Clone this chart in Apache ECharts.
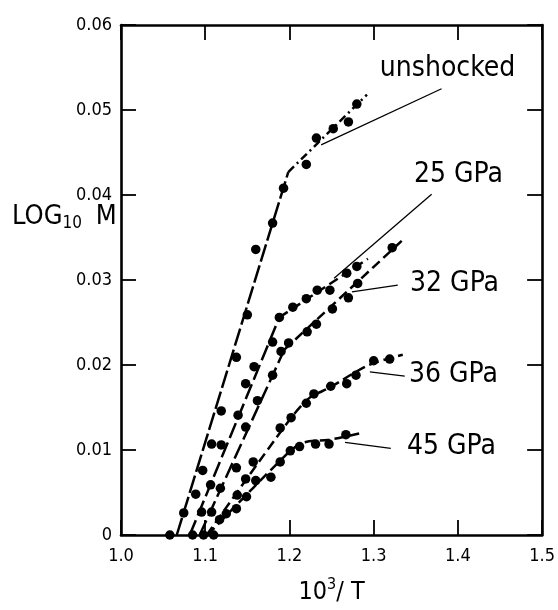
<!DOCTYPE html>
<html>
<head>
<meta charset="utf-8">
<script src="https://cdn.jsdelivr.net/npm/echarts@6/dist/echarts.min.js"></script>
<style>html,body{margin:0;padding:0;background:#fff}#c{width:558px;height:610px}</style>
</head>
<body>
<div id="c"></div>
<script>
// ---- data ----
const xTickLabels = ['1.0', '1.1', '1.2', '1.3', '1.4', '1.5'];
const yTickLabels = ['0', '0.01', '0.02', '0.03', '0.04', '0.05', '0.06'];

const unshockedPts = [[1.058,0],[1.0745,0.0026],[1.0887,0.0048],[1.097,0.0076],[1.1076,0.0107],[1.119,0.0146],[1.137,0.0209],[1.150,0.0259],[1.160,0.0336],[1.180,0.0367],[1.193,0.0408],[1.220,0.0436],[1.232,0.0467],[1.252,0.0478],[1.270,0.0486],[1.280,0.0507]];
const gpa25Pts = [[1.085,0],[1.0957,0.0027],[1.1064,0.0059],[1.119,0.0106],[1.139,0.0141],[1.148,0.0178],[1.158,0.0198],[1.180,0.0227],[1.188,0.0256],[1.204,0.0268],[1.220,0.0278],[1.233,0.0288],[1.248,0.0288],[1.268,0.0308],[1.280,0.0316]];
const gpa32Pts = [[1.098,0],[1.1076,0.0027],[1.118,0.0055],[1.137,0.0079],[1.148,0.0127],[1.162,0.0158],[1.180,0.0188],[1.190,0.0216],[1.199,0.0226],[1.221,0.0239],[1.232,0.0248],[1.251,0.0266],[1.270,0.0279],[1.281,0.0296],[1.322,0.0338]];
const gpa36Pts = [[1.110,0],[1.117,0.0018],[1.138,0.0047],[1.148,0.0066],[1.157,0.0086],[1.189,0.0126],[1.202,0.0138],[1.220,0.0155],[1.229,0.0166],[1.249,0.0175],[1.268,0.0178],[1.279,0.0188],[1.300,0.0205],[1.319,0.0207]];
const gpa45Pts = [[1.125,0.0025],[1.137,0.0031],[1.149,0.0045],[1.160,0.0064],[1.178,0.0068],[1.189,0.0086],[1.201,0.0099],[1.212,0.0104],[1.231,0.0107],[1.247,0.0107],[1.267,0.0118]];

const unshockedFitLow = [[1.0662,0],[1.1986,0.0427]];
const unshockedFitHigh = [[1.1986,0.0427],[1.292,0.0518]];
const gpa25FitLow = [[1.0816,0],[1.188,0.0256]];
const gpa25FitHigh = [[1.188,0.0256],[1.2931,0.0325]];
const gpa32FitLow = [[1.0934,0],[1.1939,0.0218]];
const gpa32FitHigh = [[1.1939,0.0218],[1.3333,0.0346]];
const gpa36Fit = [[1.1017,0],[1.1998,0.0135],[1.2234,0.0161],[1.2470,0.0173],[1.2943,0.0200],[1.3345,0.0212]];
const gpa45Fit = [[1.1028,0],[1.1998,0.0098],[1.2175,0.0109],[1.2470,0.0112],[1.2849,0.0120]];

const curveNames = ['unshocked', '25 GPa', '32 GPa', '36 GPa', '45 GPa'];
const labelAnchors = [[1.3877,0.0548],[1.4007,0.0424],[1.3960,0.0296],[1.3948,0.0188],[1.3924,0.0104]];
const leaders = [
  [[1.2376,0.0459],[1.3806,0.0525]],
  [[1.2530,0.0302],[1.3688,0.0401]],
  [[1.2742,0.0286],[1.3286,0.0294]],
  [[1.2955,0.0192],[1.3369,0.0187]],
  [[1.2660,0.0109],[1.3203,0.0102]]
];

// ---- chart ----
const FONT = "'DejaVu Sans Condensed', 'DejaVu Sans', sans-serif";
const chart = echarts.init(document.getElementById('c'), null, {renderer: 'canvas'});

function fitLine(data, dash, width) {
  return {type: 'line', data: data, symbol: 'none', silent: true, clip: false, smooth: false,
    lineStyle: {color: '#000', width: width || 2.5, type: dash, opacity: 1}, z: 2};
}
function dots(data) {
  return {type: 'scatter', data: data, symbol: 'circle', symbolSize: 9.5, clip: false,
    itemStyle: {color: '#000', opacity: 1}, z: 3};
}

const series = [
  fitLine(unshockedFitLow, [18, 4]),
  fitLine(unshockedFitHigh, [8, 4, 2, 4]),
  fitLine(gpa25FitLow, [16, 5]),
  fitLine(gpa25FitHigh, [10, 5]),
  fitLine(gpa32FitLow, [16, 5]),
  fitLine(gpa32FitHigh, [10, 5]),
  Object.assign(fitLine(gpa36Fit, [10, 5]), {smooth: 0.3}),
  Object.assign(fitLine(gpa45Fit, [10, 5]), {smooth: 0.3}),
  dots(unshockedPts), dots(gpa25Pts), dots(gpa32Pts), dots(gpa36Pts), dots(gpa45Pts)
];
leaders.forEach(l => series.push(fitLine(l, 'solid', 1.3)));
series.push({
  type: 'scatter', symbolSize: 0, silent: true, clip: false,
  itemStyle: {opacity: 1, color: '#000'},
  data: labelAnchors.map((p, i) => ({value: p, name: curveNames[i]})),
  label: {show: true, position: 'inside', formatter: p => p.name, color: '#000', opacity: 1,
    textBorderWidth: 0, fontFamily: FONT, fontSize: 28},
  z: 4
});

const tickCommon = {show: true, inside: true, length: 15, lineStyle: {color: '#000', width: 1.8}};
const lineCommon = {show: true, onZero: false, lineStyle: {color: '#000', width: 2.6}};

chart.setOption({
  animation: false,
  backgroundColor: '#fff',
  grid: {left: 121, right: 14, top: 25, bottom: 75, containLabel: false},
  xAxis: [
    {type: 'value', min: 1.0, max: 1.5, interval: 0.1, position: 'bottom',
      axisLine: lineCommon, axisTick: tickCommon, splitLine: {show: false},
      axisLabel: {color: '#000', fontFamily: FONT, fontSize: 18, margin: 12,
        formatter: (v) => xTickLabels[Math.round((v - 1.0) * 10)]},
      name: '10{sup|3}/ T', nameLocation: 'middle', nameGap: 42,
      nameTextStyle: {color: '#000', fontFamily: FONT, fontSize: 25,
        rich: {sup: {fontSize: 16, verticalAlign: 'top', padding: [0, 0, 14, 0], fontFamily: FONT, color: '#000'}}}},
    {type: 'value', min: 1.0, max: 1.5, interval: 0.1, position: 'top',
      axisLine: lineCommon, axisTick: tickCommon, axisLabel: {show: false}, splitLine: {show: false}}
  ],
  yAxis: [
    {type: 'value', min: 0, max: 0.06, interval: 0.01, position: 'left',
      axisLine: lineCommon, axisTick: tickCommon, splitLine: {show: false},
      axisLabel: {color: '#000', fontFamily: FONT, fontSize: 18, margin: 9, padding: [0, 0, 10, 0],
        formatter: (v) => yTickLabels[Math.round(v * 100)]}},
    {type: 'value', min: 0, max: 0.06, interval: 0.01, position: 'right',
      axisLine: lineCommon, axisTick: tickCommon, axisLabel: {show: false}, splitLine: {show: false}}
  ],
  graphic: [{
    type: 'text', left: 12, top: 203,
    style: {text: 'LOG{sub|10} M', fill: '#000', font: '27px ' + FONT,
      rich: {sub: {fontSize: 17, fontFamily: FONT, verticalAlign: 'bottom', padding: [14, 6, 0, 0], fill: '#000'}}}
  }],
  series: series
});
</script>
</body>
</html>
